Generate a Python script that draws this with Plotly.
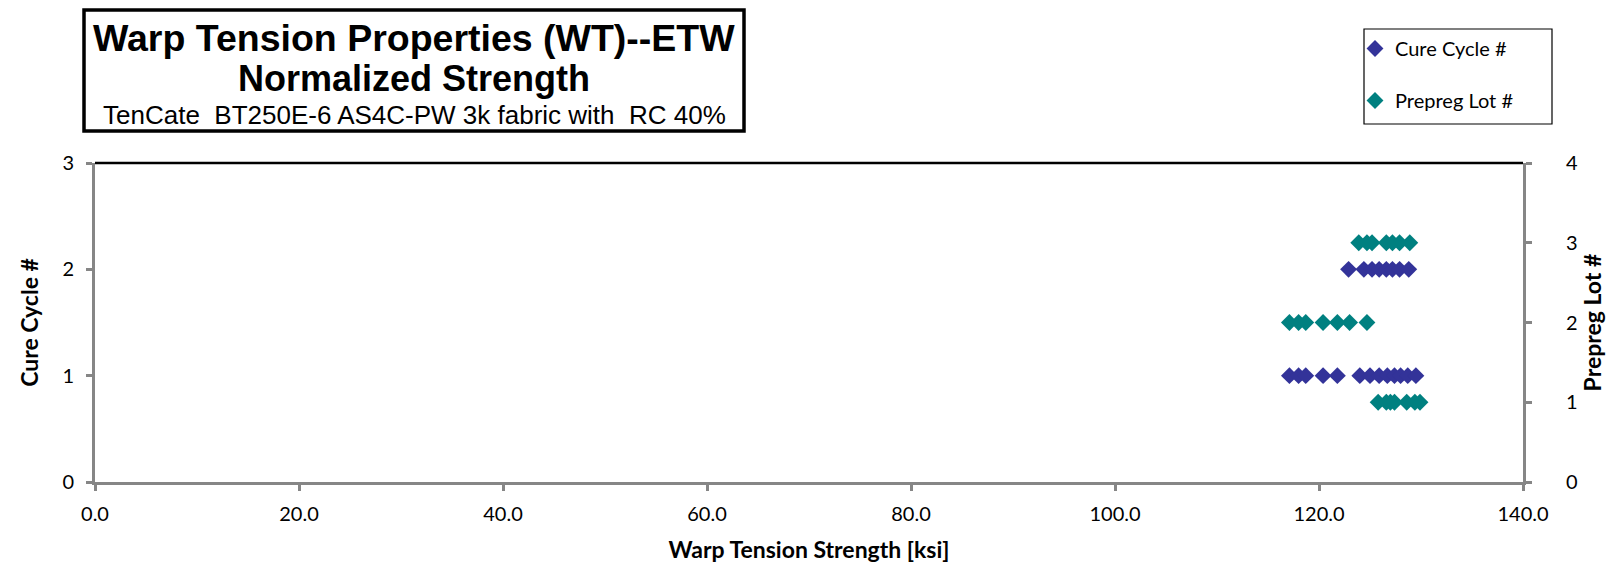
import plotly.graph_objects as go

# Data
cure1_x = [117.1, 118.0, 118.7, 120.4, 121.8, 124.0, 125.0, 125.9, 126.7, 127.4, 128.0, 128.7, 129.5]
cure1_y = [1] * len(cure1_x)
cure2_x = [122.9, 124.4, 125.2, 125.9, 126.6, 127.2, 127.9, 128.8]
cure2_y = [2] * len(cure2_x)
cure_x = cure1_x + cure2_x
cure_y = cure1_y + cure2_y

lot1_x = [125.8, 126.6, 127.0, 127.4, 128.6, 129.4, 129.9]
lot2_x = [117.1, 118.0, 118.7, 120.4, 121.8, 123.0, 124.7]
lot3_x = [123.9, 124.7, 125.2, 126.6, 127.2, 127.9, 128.9]
lot_x = lot1_x + lot2_x + lot3_x
lot_y = [1] * len(lot1_x) + [2] * len(lot2_x) + [3] * len(lot3_x)

x_ticks = [0, 20, 40, 60, 80, 100, 120, 140]
x_tick_labels = ["0.0", "20.0", "40.0", "60.0", "80.0", "100.0", "120.0", "140.0"]

BLUE = "#333399"
TEAL = "#008080"
AXIS = "#868686"
FONT = "Lato, Open Sans, sans-serif"
HEAD = "Liberation Sans, Arial, sans-serif"

# page has an 8px body margin; figure is sized to fit the window
OFF = 8
W, H = 1614 - 2 * OFF, 571 - 2 * OFF
# plot area in page pixels
PL, PR, PT, PB = 95, 1523, 163, 482
ML, MR, MT, MB = PL - OFF, W - (PR - OFF), PT - OFF, H - (PB - OFF)
PW, PH = W - ML - MR, H - MT - MB


def px_x(px):
    return (px - OFF - ML) / PW


def px_y(py):
    return (H - MB - (py - OFF)) / PH


fig = go.Figure()
fig.add_trace(go.Scatter(x=cure_x, y=cure_y, mode="markers", name="Cure Cycle #",
                         legendgroup="a",
                         marker=dict(symbol="diamond", size=13, color=BLUE)))
fig.add_trace(go.Scatter(x=lot_x, y=lot_y, mode="markers", name="Prepreg Lot #",
                         legendgroup="b", yaxis="y2",
                         marker=dict(symbol="diamond", size=13, color=TEAL)))

axis_common = dict(showgrid=False, zeroline=False, showline=True, linecolor=AXIS, linewidth=3,
                   ticks="outside", ticklen=6, tickwidth=3, tickcolor=AXIS, automargin=False)

fig.update_layout(
    width=W, height=H,
    margin=dict(l=ML, r=MR, t=MT, b=MB, autoexpand=False),
    paper_bgcolor="white", plot_bgcolor="white",
    font=dict(family=FONT, size=20, color="black"),
    showlegend=True,
    legend=dict(x=px_x(1355), y=px_y(29), xanchor="left", yanchor="top",
                borderwidth=0, bgcolor="rgba(0,0,0,0)",
                font=dict(size=20, family=FONT),
                traceorder="grouped", tracegroupgap=23,
                itemwidth=30),
    xaxis=dict(range=[0, 140], tickvals=x_ticks, ticktext=x_tick_labels,
               ticklabelstandoff=6,
               title=dict(text="<b>Warp Tension Strength [ksi]</b>", font=dict(size=23), standoff=22),
               **axis_common),
    yaxis=dict(range=[0, 3], tickvals=[0, 1, 2, 3],
               ticklabelstandoff=8,
               title=dict(text="<b>Cure Cycle #</b>", font=dict(size=23), standoff=18),
               **axis_common),
    yaxis2=dict(range=[0, 4], tickvals=[0, 1, 2, 3, 4], overlaying="y", side="right",
                ticklabelstandoff=30,
                title=dict(text="<b>Prepreg Lot #</b>", font=dict(size=23), standoff=20),
                **axis_common),
)

# black top border of plot area
fig.add_shape(type="line", xref="paper", yref="paper", x0=0, x1=1, y0=1, y1=1,
              line=dict(color="black", width=2.5))

# legend box
fig.add_shape(type="rect", xref="paper", yref="paper",
              x0=px_x(1364), x1=px_x(1552), y0=px_y(124), y1=px_y(29),
              line=dict(color="black", width=1.2), fillcolor="rgba(0,0,0,0)", layer="above")

# title box
fig.add_shape(type="rect", xref="paper", yref="paper",
              x0=px_x(84), x1=px_x(744), y0=px_y(131), y1=px_y(10),
              line=dict(color="black", width=3.5), fillcolor="white", layer="above")
cx = px_x((84 + 744) / 2)
fig.add_annotation(text="<b>Warp Tension Properties (WT)--ETW</b>", xref="paper", yref="paper",
                   x=cx, y=px_y(38), xanchor="center", yanchor="middle", showarrow=False,
                   font=dict(family=HEAD, size=37.5, color="black"))
fig.add_annotation(text="<b>Normalized Strength</b>", xref="paper", yref="paper",
                   x=cx, y=px_y(78), xanchor="center", yanchor="middle", showarrow=False,
                   font=dict(family=HEAD, size=36, color="black"))
fig.add_annotation(text="TenCate  BT250E-6 AS4C-PW 3k fabric with  RC 40%", xref="paper", yref="paper",
                   x=cx, y=px_y(115), xanchor="center", yanchor="middle", showarrow=False,
                   font=dict(family=HEAD, size=26, color="black"))

fig.write_html("out.html")
